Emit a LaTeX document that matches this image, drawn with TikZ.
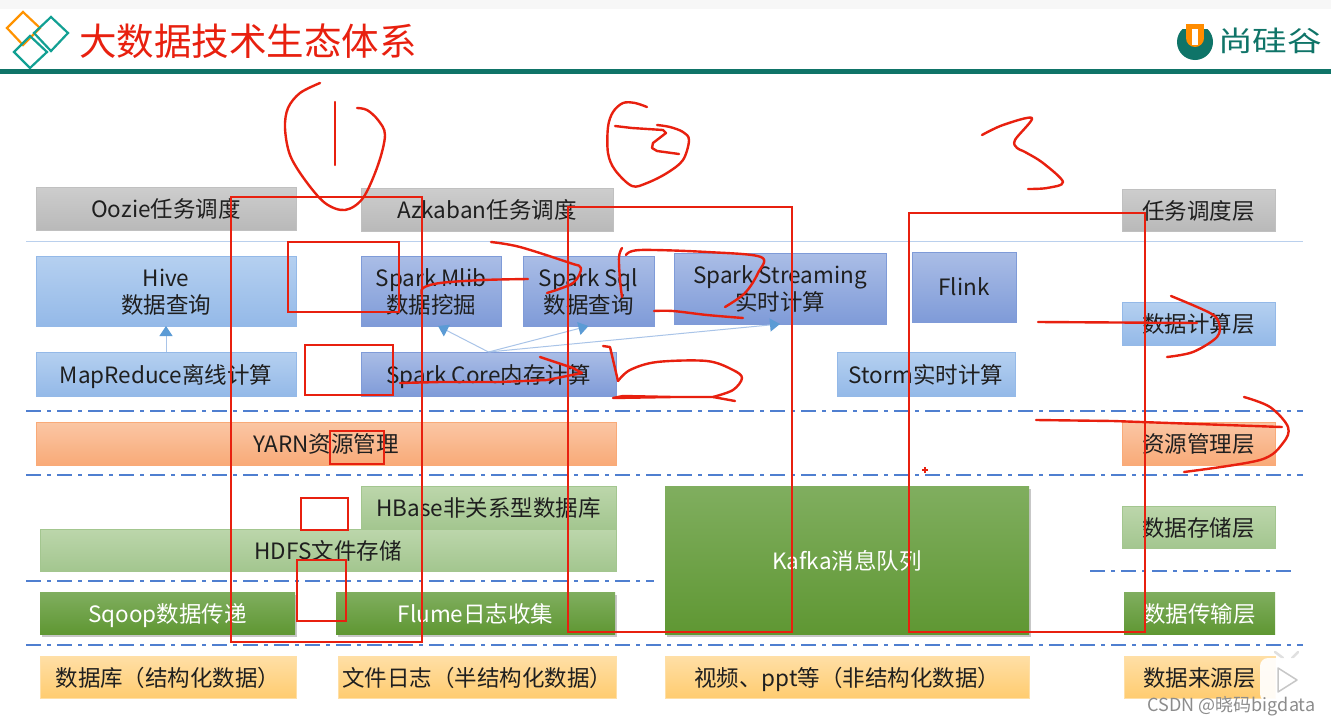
\documentclass[tikz,border=0pt]{standalone}
\usepackage{fontspec}
\setmainfont{Noto Sans CJK SC}
\usetikzlibrary{arrows.meta,shadows}
\definecolor{inkred}{HTML}{E8200F}
\definecolor{teal1}{HTML}{0F7468}
\definecolor{teal2}{HTML}{12A093}
\definecolor{sepblue}{HTML}{4F7FD0}
\definecolor{arrowline}{HTML}{A9C4E8}
\definecolor{arrowtip}{HTML}{5B9BD5}
\definecolor{grayT}{HTML}{CDCDCD}\definecolor{grayB}{HTML}{B9B9B9}
\definecolor{lblueT}{HTML}{B5D0F0}\definecolor{lblueB}{HTML}{94B9E8}
\definecolor{sblueT}{HTML}{AABDE6}\definecolor{sblueB}{HTML}{7F9BD8}
\definecolor{oranT}{HTML}{FAC6A4}\definecolor{oranB}{HTML}{F9AA78}
\definecolor{lgrnT}{HTML}{BCD6AB}\definecolor{lgrnB}{HTML}{A3C68F}
\definecolor{dgrnT}{HTML}{80AE5F}\definecolor{dgrnB}{HTML}{5F9733}
\definecolor{yelT}{HTML}{FFDFA6}\definecolor{yelB}{HTML}{FFCC70}
\tikzset{
  base/.style={rectangle,inner sep=0pt,outer sep=0pt,line width=.8pt,text=black!88,
    font=\fontsize{22.5}{26}\selectfont},
  graybox/.style={base,draw=grayB!90,top color=grayT,bottom color=grayB},
  lightblue/.style={base,draw=lblueB,top color=lblueT,bottom color=lblueB},
  sparkblue/.style={base,draw=sblueB,top color=sblueT,bottom color=sblueB},
  orangebox/.style={base,draw=oranB,top color=oranT,bottom color=oranB},
  lightgreen/.style={base,draw=lgrnB,top color=lgrnT,bottom color=lgrnB},
  greenbox/.style={base,draw=none,text=white,top color=dgrnT,bottom color=dgrnB,
    drop shadow={shadow xshift=1.5pt,shadow yshift=-2.5pt,opacity=.22,fill=black}},
  flatgreen/.style={base,draw=none,text=white,top color=dgrnT,bottom color=dgrnB},
  yellowbox/.style={base,draw=yelT,top color=yelT,bottom color=yelB},
  sepline/.style={draw=sepblue,line width=2pt,dash pattern=on 15pt off 6pt on 4pt off 6pt},
  thinline/.style={draw=arrowline!80,line width=1pt},
  flowarrow/.style={draw=arrowline,line width=1pt,-{Triangle[length=10pt,width=13pt,color=arrowtip,fill=arrowtip]}},
  redframe/.style={draw=inkred,line width=2.6pt},
  redink/.style={draw=inkred,line width=2.4pt,line cap=round,line join=round},
  diamondline/.style={line width=2.2pt},
}
\newcommand{\bx}[7]{\node[#6,minimum width={(#4-#2)*1pt},minimum height={(#5-#3)*1pt}] (#1) at ({(#2+#4)/2},{(#3+#5)/2}) {\raisebox{-3.6pt}[\height][\depth]{\begin{tabular}{@{}c@{}}#7\end{tabular}}};}
\newcommand{\stroke}[1]{\draw[redink] plot[smooth,tension=.55] coordinates {#1};}
\begin{document}
\begin{tikzpicture}[x=1pt,y=-1pt]
\useasboundingbox (0,0) rectangle (1331,726);
\fill[white] (0,0) rectangle (1331,726);
\fill[black!3] (0,0) rectangle (1331,9);
% header
\draw[orange!85!yellow,diamondline] (23,12)--(40,28)--(23,45)--(7,28)--cycle;
\draw[teal2,diamondline] (51,17)--(68,33)--(51,51)--(34,33)--cycle;
\draw[teal2,diamondline] (30,36)--(47,52)--(30,68)--(14,52)--cycle;
\fill[teal1] (0,69) rectangle (1331,74);
\node[base,text=inkred,font=\fontsize{37.5}{40}\selectfont] (title) at (248,41) {大数据技术生态体系};
% logo
\fill[teal1] (1195,42) circle[radius=18];
\fill[white] (1175,20) rectangle (1215,29);
\fill[orange!90!yellow] (1186,24) rectangle (1204,38);
\fill[orange!90!yellow] (1195,38) circle[radius=9];
\fill[white] (1192,29) rectangle (1198,45);
\node[base,text=teal1,font=\fontsize{33}{36}\selectfont] (brand) at (1270,41) {\scalebox{1.05}[.85]{尚硅谷}};
% separators
\draw[thinline] (26,241) -- (1303,241);
\draw[sepline] (26,411) -- (1303,411);
\draw[sepline] (26,475) -- (1303,475);
\draw[sepline] (26,581) -- (654,581);
\draw[sepline] (1090,571) -- (1293,571);
\draw[sepline] (26,645) -- (1303,645);
% boxes
\bx{oozie}{36}{187}{296}{230}{graybox}{Oozie任务调度}
\bx{azkaban}{361}{188}{613}{231}{graybox}{Azkaban任务调度}
\bx{layersched}{1122}{189}{1275}{231}{graybox}{任务调度层}
\bx{hive}{36}{256}{296}{326}{lightblue}{Hive\\数据查询}
\bx{mlib}{361}{256}{501}{326}{sparkblue}{Spark Mlib\\数据挖掘}
\bx{sql}{523}{256}{654}{326}{sparkblue}{Spark Sql\\数据查询}
\bx{streaming}{674}{253}{886}{324}{sparkblue}{Spark Streaming\\实时计算}
\bx{flink}{912}{252}{1016}{322}{sparkblue}{Flink}
\bx{layercomp}{1122}{302}{1275}{345}{lightblue}{数据计算层}
\bx{mapreduce}{36}{352}{296}{396}{lightblue}{MapReduce离线计算}
\bx{core}{361}{352}{616}{396}{sparkblue}{Spark Core内存计算}
\bx{storm}{837}{352}{1015}{396}{lightblue}{Storm实时计算}
\bx{yarn}{36}{422}{616}{465}{orangebox}{YARN资源管理}
\bx{layerres}{1122}{422}{1275}{465}{orangebox}{资源管理层}
\bx{hbase}{361}{486}{616}{529}{lightgreen}{HBase非关系型数据库}
\bx{hdfs}{40}{529}{616}{571}{lightgreen}{HDFS文件存储}
\bx{kafka}{665}{486}{1029}{634}{greenbox}{Kafka消息队列}
\bx{layerstore}{1122}{506}{1275}{548}{lightgreen}{数据存储层}
\bx{sqoop}{40}{592}{295}{634}{greenbox}{Sqoop数据传递}
\bx{flume}{336}{592}{615}{634}{greenbox}{Flume日志收集}
\bx{layertrans}{1124}{592}{1275}{634}{flatgreen}{数据传输层}
\bx{database}{40}{656}{296}{698}{yellowbox}{数据库（结构化数据）}
\bx{filelog}{338}{656}{616}{698}{yellowbox}{文件日志（半结构化数据）}
\bx{video}{665}{656}{1029}{698}{yellowbox}{视频、ppt等（非结构化数据）}
\bx{layersrc}{1124}{656}{1275}{698}{yellowbox}{数据来源层}
% connectors
\draw[flowarrow] (mapreduce.north) -- (mapreduce.north |- hive.south);
\draw[flowarrow] (core.north) -- ([xshift=7pt]mlib.south);
\draw[flowarrow] (core.north) -- (sql.south);
\draw[flowarrow] (core.north) -- (streaming.south);
% red rectangles
\draw[redframe] (231,197) rectangle (422,642);
\draw[redframe] (568,207) rectangle (792,632);
\draw[redframe] (909,213) rectangle (1145,632);
\draw[redframe] (288,242) rectangle (399,312);
\draw[redframe] (305,345) rectangle (393,395);
\draw[redframe] (330,431) rectangle (384,464);
\draw[redframe] (301,498) rectangle (348,530);
\draw[redframe] (297,560) rectangle (346,621);
% handwriting
\stroke{(320,83)(300,93)(288,108)(285,128)(290,155)(305,180)(325,203)(345,210)(363,198)(378,165)(385,135)(378,120)(367,110)(357,108)}
\draw[redink] (335,102) -- (335,165);
\stroke{(647,107)(635,103)(623,103)(613,112)(608,127)(608,153)(615,170)(632,186)(647,183)(667,173)(683,160)(689,140)(683,132)(670,127)(657,125)}
\draw[redink] (615,126) -- (632,128) -- (663,130) -- (666,133) -- (653,143) -- (652,148) -- (657,151) -- (679,154);
\stroke{(982,135)(1003,125)(1032,118)(1015,140)(1017,148)(1025,152)(1043,163)(1063,182)(1047,188)(1028,189)}
\stroke{(528,279)(483,280)(440,283)(423,288)(422,295)}
\stroke{(491,242)(520,247)(570,263)(581,268)(573,283)(547,293)}
\stroke{(622,248)(619,257)(620,280)(622,297)}
\stroke{(626,255)(640,250)(707,252)(761,257)(758,273)(745,293)(725,307)}
\stroke{(654,311)(673,311)(707,315)(743,318)}
\draw[redink] (400,383) -- (440,382) -- (500,382) -- (547,380) -- (582,373) -- (573,368) -- (540,357);
\draw[redink] (603,346) -- (610,347) -- (618,381);
\stroke{(618,381)(630,370)(657,362)(707,361)(733,370)(742,378)(733,390)(713,397)}
\draw[redink] (713,397) -- (673,397) -- (623,396) -- (613,398) -- (673,397) -- (713,397) -- (735,401);
\draw[redink] (1038,322) -- (1197,323);
\stroke{(1171,296)(1210,313)(1219,323)(1217,337)(1193,352)(1167,357)}
\draw[redink] (1036,420) -- (1113,421) -- (1282,427);
\stroke{(1244,397)(1270,407)(1288,427)(1283,443)(1260,460)(1184,472)}
\draw[inkred,line width=1.4pt] (922,470) -- (928,470) (925,467) -- (925,473);
% video-player overlay
\draw[black!12,line width=2.5pt,line cap=round] (1275,652) -- (1283,658) (1298,652) -- (1292,658);
\fill[white,opacity=.92,rounded corners=8pt] (1260,658) rectangle (1313,702);
\draw[black!22,fill=white,line width=1.5pt,line join=round] (1278,668) -- (1297,680) -- (1278,692) -- cycle;
\node[base,text=black!45,font=\fontsize{18}{20}\selectfont] (mark) at (1231.5,706) {CSDN @晓码bigdata};
\end{tikzpicture}
\end{document}
